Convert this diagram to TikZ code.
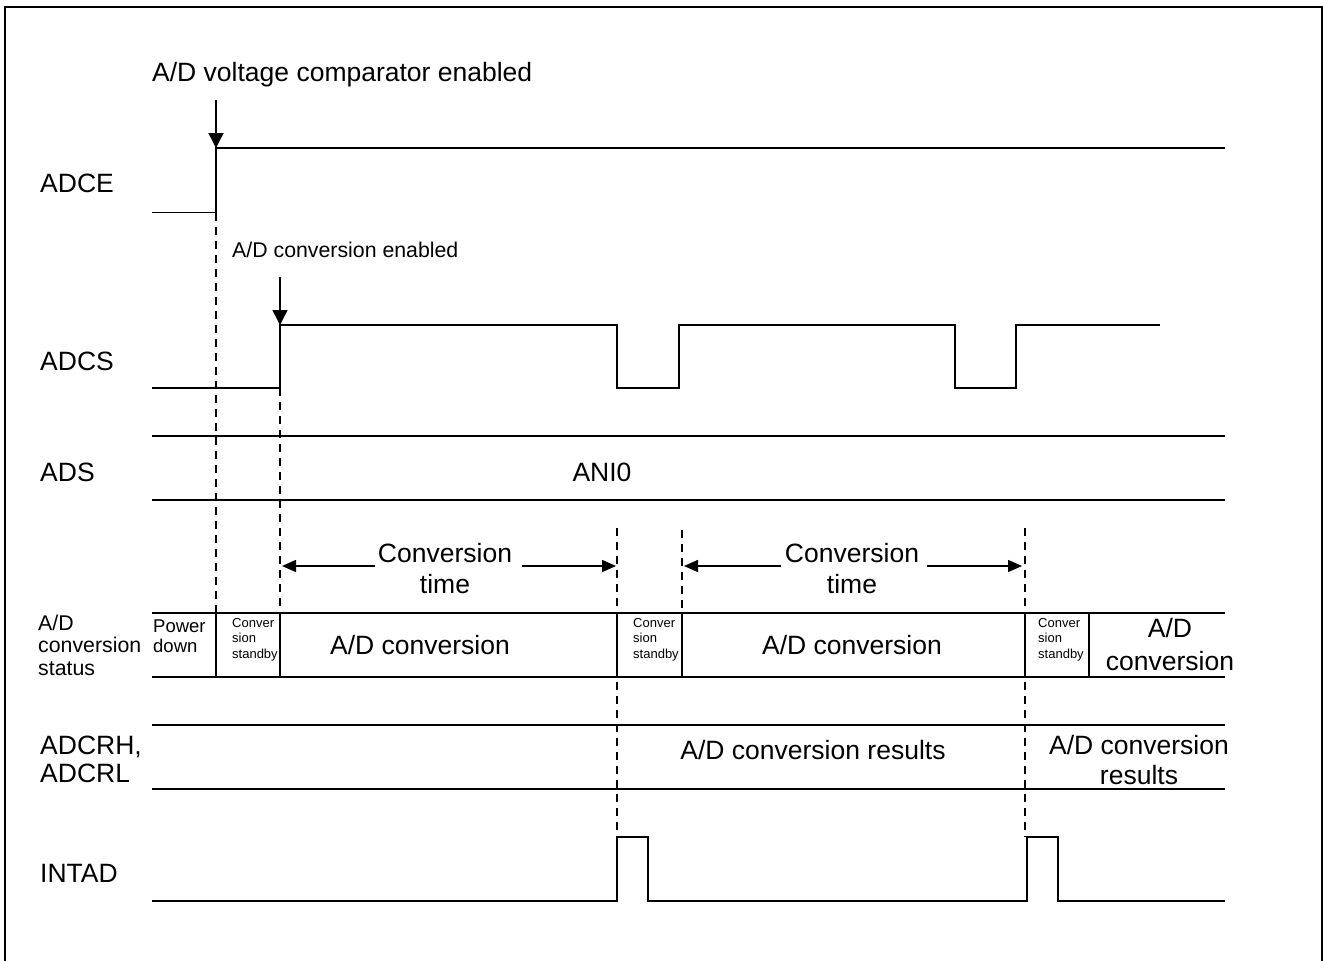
\documentclass[tikz,border=0pt]{standalone}
\usepackage{fontspec}
\setmainfont{Liberation Sans}
\usetikzlibrary{arrows.meta}
\tikzset{
  wave/.style={line width=1.5pt, line join=miter},
  rowline/.style={line width=1.5pt},
  vdash/.style={line width=1.3pt, dash pattern=on 8pt off 6pt},
  marker/.style={-{Triangle[length=15pt,width=15pt]}, line width=1.5pt},
  dimarrow/.style={-{Triangle[length=14pt,width=12pt]}, line width=1.5pt},
  lbl/.style={inner sep=0pt, font=\fontsize{26.5}{30}\selectfont},
  sml/.style={inner sep=0pt, font=\fontsize{21.3}{22.5}\selectfont},
  tny/.style={inner sep=0pt, font=\fontsize{13}{15.5}\selectfont, align=left},
  pwr/.style={inner sep=0pt, font=\fontsize{18.5}{20}\selectfont, align=left},
}
\begin{document}
\begin{tikzpicture}[x=1pt,y=-1pt]
\useasboundingbox (0,0) rectangle (1323,961);
% frame
\draw[line width=2.5pt] (5,961) -- (5,7) -- (1322,7) -- (1322,961);

% ---- labels on the left
\node[lbl, anchor=base west] (lADCE) at (40,192) {ADCE};
\node[lbl, anchor=base west] (lADCS) at (40,370) {ADCS};
\node[lbl, anchor=base west] (lADS) at (40,481) {ADS};
\node[sml, anchor=west, align=left] (lstat) at (38,645) {A/D\\conversion\\status};
\node[lbl, anchor=west, align=left, font=\fontsize{26.5}{28}\selectfont] (lADCR) at (40,759.5) {ADCRH,\\ADCRL};
\node[lbl, anchor=base west] (lINTAD) at (40,882) {INTAD};

% ---- ADCE
\draw[wave] (152,212.5) -- (216,212.5) -- (216,148) -- (1225,148);
\node[lbl, anchor=base west] (tcomp) at (152,81) {A/D voltage comparator enabled};
\coordinate (m1s) at (216,100);
\coordinate (m1e) at (216,148);
\draw[marker] (m1s) -- (m1e);

% ---- ADCS
\draw[wave] (152,388) -- (280,388) -- (280,325) -- (617,325) -- (617,388) -- (679,388)
  -- (679,325) -- (955,325) -- (955,388) -- (1016,388) -- (1016,325) -- (1160,325);
\node[sml, anchor=base west] (tconv) at (232,257) {A/D conversion enabled};
\coordinate (m2s) at (280,277);
\coordinate (m2e) at (280,325);
\draw[marker] (m2s) -- (m2e);

% ---- ADS
\draw[rowline] (152,436) -- (1225,436);
\draw[rowline] (152,500) -- (1225,500);
\node[lbl, anchor=base] (tani) at (602,481) {ANI0};

% ---- dashed guides
\coordinate (g1t) at (216,213); \coordinate (g1b) at (216,613);
\coordinate (g2t) at (280,388); \coordinate (g2b) at (280,613);
\coordinate (g3t) at (617,528); \coordinate (g3b) at (617,837);
\coordinate (g4t) at (682,530); \coordinate (g4b) at (682,613);
\coordinate (g5t) at (1025,528); \coordinate (g5b) at (1025,837);
\draw[vdash] (g1t) -- (g1b);
\draw[vdash] (g2t) -- (g2b);
\draw[vdash] (g3t) -- (g3b);
\draw[vdash] (g4t) -- (g4b);
\draw[vdash] (g5t) -- (g5b);

% ---- conversion time
\node[lbl, align=center, font=\fontsize{26.5}{31}\selectfont] (ct1) at (445,569) {Conversion\\time};
\node[lbl, align=center, font=\fontsize{26.5}{31}\selectfont] (ct2) at (852,569) {Conversion\\time};
\coordinate (c1a) at (375,566); \coordinate (c1b) at (282,566);
\coordinate (c1c) at (522,566); \coordinate (c1d) at (616,566);
\coordinate (c2a) at (781,566); \coordinate (c2b) at (684,566);
\coordinate (c2c) at (927,566); \coordinate (c2d) at (1022,566);
\draw[dimarrow] (c1a) -- (c1b);
\draw[dimarrow] (c1c) -- (c1d);
\draw[dimarrow] (c2a) -- (c2b);
\draw[dimarrow] (c2c) -- (c2d);

% ---- status row
\draw[rowline] (152,613) -- (1225,613);
\draw[rowline] (152,677) -- (1225,677);
\foreach \x in {216,280,617,682,1025,1089} \draw[rowline] (\x,613) -- (\x,677);
\node[pwr, anchor=west] (spd) at (153,636) {Power\\down};
\node[tny, anchor=west] (ss1) at (232,639.5) {Conver\\sion\\standby};
\node[lbl, anchor=base] (sc1) at (420,654) {A/D conversion};
\node[tny, anchor=west] (ss2) at (633,639.5) {Conver\\sion\\standby};
\node[lbl, anchor=base] (sc2) at (852,654) {A/D conversion};
\node[tny, anchor=west] (ss3) at (1038,639.5) {Conver\\sion\\standby};
\node[lbl, align=center, font=\fontsize{26.5}{33}\selectfont] (sc3) at (1170,645) {A/D\\conversion};

% ---- ADCRH/ADCRL
\draw[rowline] (152,725) -- (1225,725);
\draw[rowline] (152,789) -- (1225,789);
\node[lbl, anchor=base] (rr1) at (813,759) {A/D conversion results};
\node[lbl, align=center, font=\fontsize{26.5}{30}\selectfont] (rr2) at (1139,760.5) {A/D conversion\\results};

% ---- INTAD
\draw[wave] (152,901) -- (617,901) -- (617,837) -- (648,837) -- (648,901) -- (1027,901)
  -- (1027,837) -- (1058,837) -- (1058,901) -- (1225,901);
\end{tikzpicture}
\end{document}
